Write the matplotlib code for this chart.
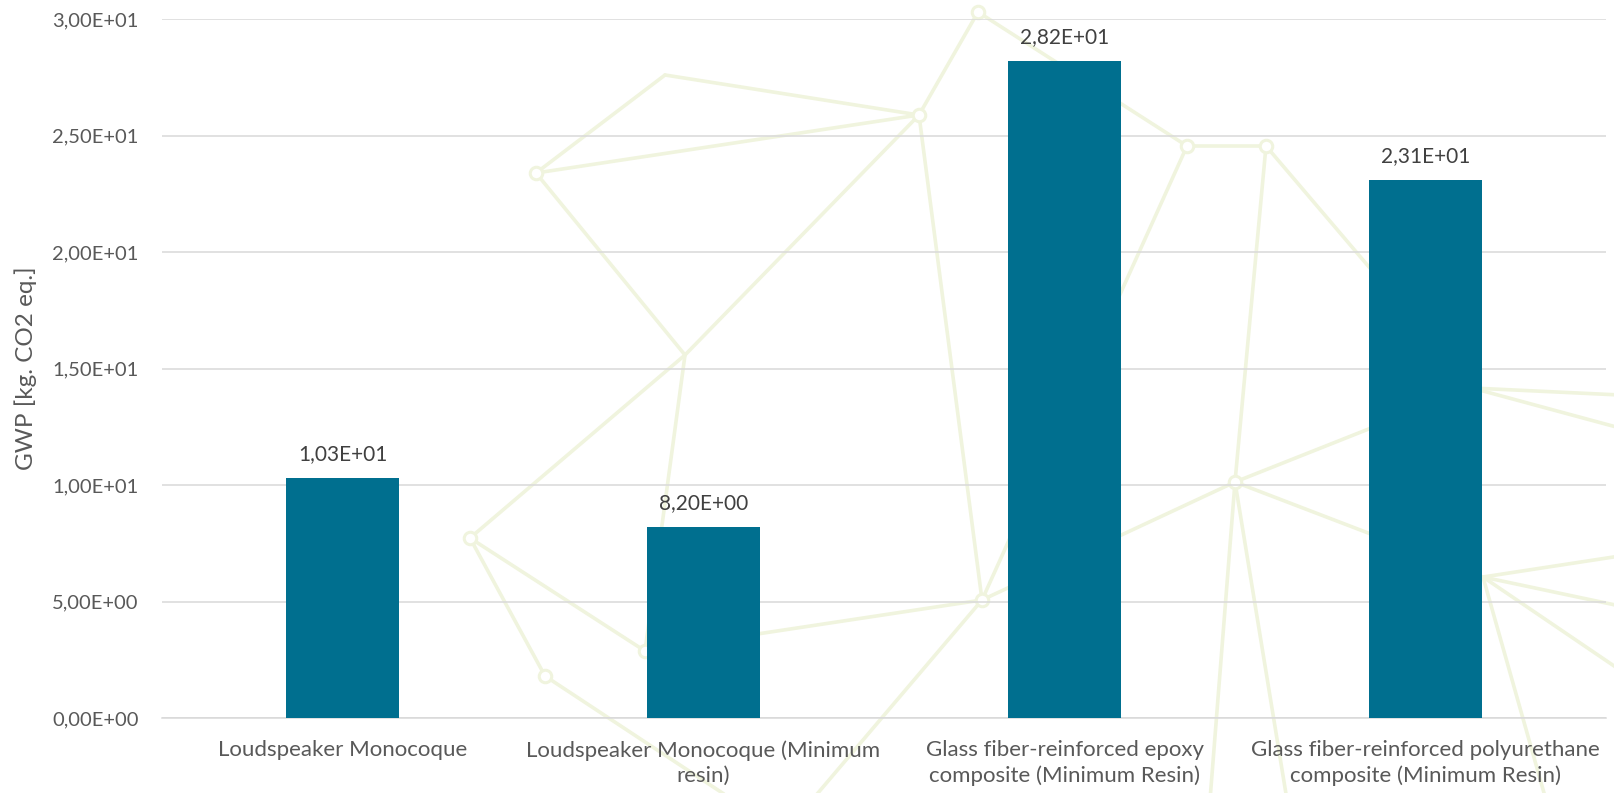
import numpy as np
import matplotlib.pyplot as plt
from matplotlib.ticker import FuncFormatter

# chart data
categories = [
    "Loudspeaker Monocoque",
    "Loudspeaker Monocoque (Minimum\nresin)",
    "Glass fiber-reinforced epoxy\ncomposite (Minimum Resin)",
    "Glass fiber-reinforced polyurethane\ncomposite (Minimum Resin)",
]
gwp_values = [10.3, 8.2, 28.2, 23.1]
y_ticks = [0, 5, 10, 15, 20, 25, 30]

# decorative background network (figure pixels, origin top-left)
net_nodes = {
    "A": (978, 12), "B": (919, 115), "C": (665, 75), "D": (536, 173),
    "E": (685, 355), "F": (470, 538), "G": (545, 676), "P": (645, 651),
    "H": (982, 600), "I": (1187, 146), "J": (1266, 146), "K": (1235, 482),
    "N": (1472, 388), "M": (1483, 577),
    "e1": (733, 800), "e2": (812, 800), "e3": (1210, 800), "e4": (1287, 800),
    "e5": (1620, 395), "e6": (1620, 428), "e7": (1620, 556), "e8": (1620, 606),
    "e9": (1620, 670), "e10": (1546, 800),
}
net_edges = [
    ("A", "B"), ("A", "I"), ("B", "C"), ("C", "D"), ("D", "B"), ("D", "E"),
    ("B", "E"), ("B", "H"), ("E", "F"), ("E", "P"), ("F", "G"), ("F", "P"),
    ("G", "e1"), ("P", "H"), ("H", "e2"), ("I", "H"), ("I", "J"), ("J", "K"),
    ("J", "N"), ("K", "H"), ("K", "N"), ("K", "M"), ("K", "e3"), ("K", "e4"),
    ("N", "e5"), ("N", "e6"), ("M", "e7"), ("M", "e8"), ("M", "e9"), ("M", "e10"),
]
circle_nodes = ["A", "B", "D", "F", "G", "P", "H", "I", "J", "K"]

plt.rcParams["font.family"] = ["Lato", "DejaVu Sans"]

W, H = 1614, 793
fig = plt.figure(figsize=(W / 100, H / 100), dpi=100)

# background decoration
bg = fig.add_axes([0, 0, 1, 1], zorder=0)
bg.set_xlim(0, W)
bg.set_ylim(H, 0)
bg.axis("off")
line_col = "#F0F4DE"
for a, b in net_edges:
    (x1, y1), (x2, y2) = net_nodes[a], net_nodes[b]
    bg.plot([x1, x2], [y1, y2], color=line_col, lw=2.6, solid_capstyle="round")
for n in circle_nodes:
    x, y = net_nodes[n]
    bg.plot(x, y, "o", ms=9, mfc="white", mec=line_col, mew=2.2)

ax = fig.add_axes([162 / W, 1 - 718 / H, (1606 - 162) / W, (718 - 19) / H], zorder=1)
ax.patch.set_alpha(0)

x = np.arange(len(categories))
bars = ax.bar(x, gwp_values, width=0.313, color="#006F8F", zorder=3)

fmt = lambda v: f"{v:.2E}".replace(".", ",")
ax.bar_label(bars, labels=[fmt(v) for v in gwp_values], padding=10,
             fontsize=15, color="#404040")

ax.set_xlim(-0.5, len(categories) - 0.5)
ax.set_ylim(0, 30)
ax.set_yticks(y_ticks)
ax.yaxis.set_major_formatter(FuncFormatter(lambda v, p: fmt(v)))
ax.set_xticks(x)
ax.set_xticklabels(categories, linespacing=1.3, fontsize=16)

ax.grid(axis="y", color="#D9D9D9", lw=1.1, zorder=0)
for s in ["top", "right", "left"]:
    ax.spines[s].set_visible(False)
ax.spines["bottom"].set_color("#D9D9D9")
ax.spines["bottom"].set_linewidth(1.1)

ax.tick_params(axis="both", length=0, labelcolor="#595959")
ax.tick_params(axis="y", pad=17, labelsize=14.5)
ax.tick_params(axis="x", pad=16)

ax.set_ylabel("GWP [kg. CO2 eq.]", fontsize=17.5, color="#595959", labelpad=11)

fig.savefig("out.png", dpi=100)
